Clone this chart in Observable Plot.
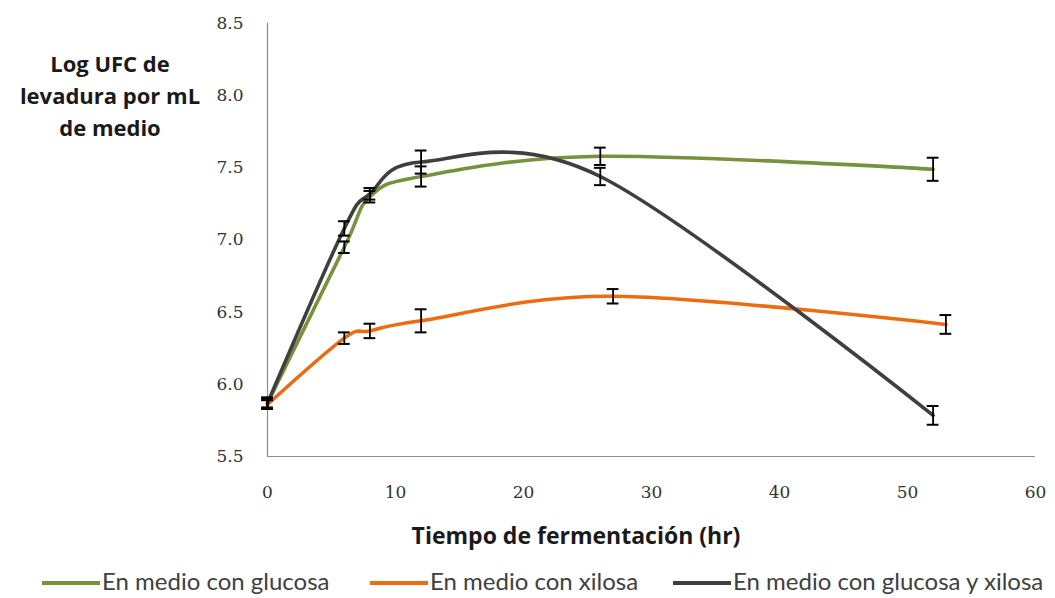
<!DOCTYPE html>
<html>
<head>
<meta charset="utf-8">
<script src="https://cdn.jsdelivr.net/npm/d3@7"></script>
<script src="https://cdn.jsdelivr.net/npm/@observablehq/plot@0.6"></script>
<style>
  html, body { margin: 0; padding: 0; background: #fff; }
  #wrap { position: relative; width: 1055px; height: 598px; overflow: hidden; }
  #chart { position: absolute; left: 0; top: 0; }
  .ytitle { position: absolute; left: 0; top: 47px; width: 220px; text-align: center;
    font-family: "Open Sans", Lato, sans-serif; font-weight: bold; font-size: 22px; line-height: 32px; color: #1a1a1a; white-space: nowrap; }
  .xtitle { position: absolute; left: 326px; width: 500px; top: 520px; text-align: center;
    font-family: "Open Sans", Lato, sans-serif; font-weight: bold; font-size: 23px; line-height: 30px; color: #1a1a1a; white-space: nowrap; }
  .leg { position: absolute; top: 567px; height: 28px; display: flex; align-items: center;
    font-family: Lato, "Open Sans", sans-serif; font-size: 24px; line-height: 28px; color: #404040; white-space: nowrap; }
  .sw { display: inline-block; width: 58px; height: 4px; margin-right: 2px; margin-top: 4px; }
</style>
</head>
<body>
<div id="wrap">
  <div id="chart"></div>
  <div class="ytitle">Log UFC de<br>levadura por mL<br>de medio</div>
  <div class="xtitle">Tiempo de fermentación (hr)</div>
  <div id="legend"></div>
</div>
<script>
// Series names
const seriesNames = ["En medio con glucosa", "En medio con xilosa", "En medio con glucosa y xilosa"];
const seriesColors = ["#76923C", "#EE6C10", "#3F3F3F"];

// Hours (x values)
const hoursGlucose = [0, 6, 8, 12, 26, 52];
const hoursXylose  = [0, 6, 8, 12, 27, 53];
const hoursMixed   = [0, 6, 8, 12, 26, 52];

// Log UFC values
const glucose    = [5.87, 6.95, 7.30, 7.44, 7.58, 7.49];
const glucoseErr = [0.03, 0.04, 0.04, 0.07, 0.06, 0.08];
const xylose     = [5.86, 6.32, 6.37, 6.44, 6.61, 6.415];
const xyloseErr  = [0.03, 0.04, 0.05, 0.08, 0.05, 0.065];
const mixed      = [5.87, 7.08, 7.32, 7.54, 7.44, 5.785];
const mixedErr   = [0.04, 0.05, 0.04, 0.08, 0.06, 0.065];

// Axis ticks
const xTicks = [0, 10, 20, 30, 40, 50, 60];
const yTicks = [5.5, 6.0, 6.5, 7.0, 7.5, 8.0, 8.5];

const build = (name, xs, ys, es) => xs.map((x, i) => ({series: name, x, y: ys[i], e: es[i]}));
const data = [
  ...build(seriesNames[0], hoursGlucose, glucose, glucoseErr),
  ...build(seriesNames[1], hoursXylose, xylose, xyloseErr),
  ...build(seriesNames[2], hoursMixed, mixed, mixedErr)
];

const capHalf = 0.46; // half-width of error caps in hours

const chart = Plot.plot({
  width: 1055,
  height: 545,
  marginLeft: 267,
  marginRight: 20,
  marginTop: 23,
  marginBottom: 89,
  style: { fontFamily: "DejaVu Serif", fontSize: "17px", color: "#333", background: "transparent" },
  x: { domain: [0, 60] },
  y: { domain: [5.5, 8.5] },
  color: { domain: seriesNames, range: seriesColors },
  marks: [
    Plot.axisX({ ticks: xTicks, tickSize: 0, tickPadding: 29, tickFormat: d3.format("d"), label: null, fontSize: 17, fontFamily: "DejaVu Serif" }),
    Plot.axisY({ ticks: yTicks, tickSize: 0, tickPadding: 24, tickFormat: d3.format(".1f"), label: null, fontSize: 17, fontFamily: "DejaVu Serif" }),
    Plot.ruleX([0], { stroke: "#8c8c8c", strokeWidth: 1.2 }),
    Plot.ruleY([5.5], { stroke: "#8c8c8c", strokeWidth: 1.2 }),
    Plot.line(data, { x: "x", y: "y", z: "series", stroke: "series", strokeWidth: 3.6, curve: "cardinal", strokeLinejoin: "round", strokeLinecap: "round" }),
    Plot.ruleX(data, { x: "x", y1: d => d.y - d.e, y2: d => d.y + d.e, stroke: "#000", strokeWidth: 1.8 }),
    Plot.ruleY(data, { y: d => d.y + d.e, x1: d => d.x - capHalf, x2: d => d.x + capHalf, stroke: "#000", strokeWidth: 2 }),
    Plot.ruleY(data, { y: d => d.y - d.e, x1: d => d.x - capHalf, x2: d => d.x + capHalf, stroke: "#000", strokeWidth: 2 })
  ]
});
document.getElementById("chart").appendChild(chart);

// Legend
const legendLefts = [42, 370, 673];
const legend = document.getElementById("legend");
seriesNames.forEach((name, i) => {
  const item = document.createElement("div");
  item.className = "leg";
  item.style.left = legendLefts[i] + "px";
  const sw = document.createElement("span");
  sw.className = "sw";
  sw.style.background = seriesColors[i];
  item.appendChild(sw);
  item.appendChild(document.createTextNode(name));
  legend.appendChild(item);
});
</script>
</body>
</html>
